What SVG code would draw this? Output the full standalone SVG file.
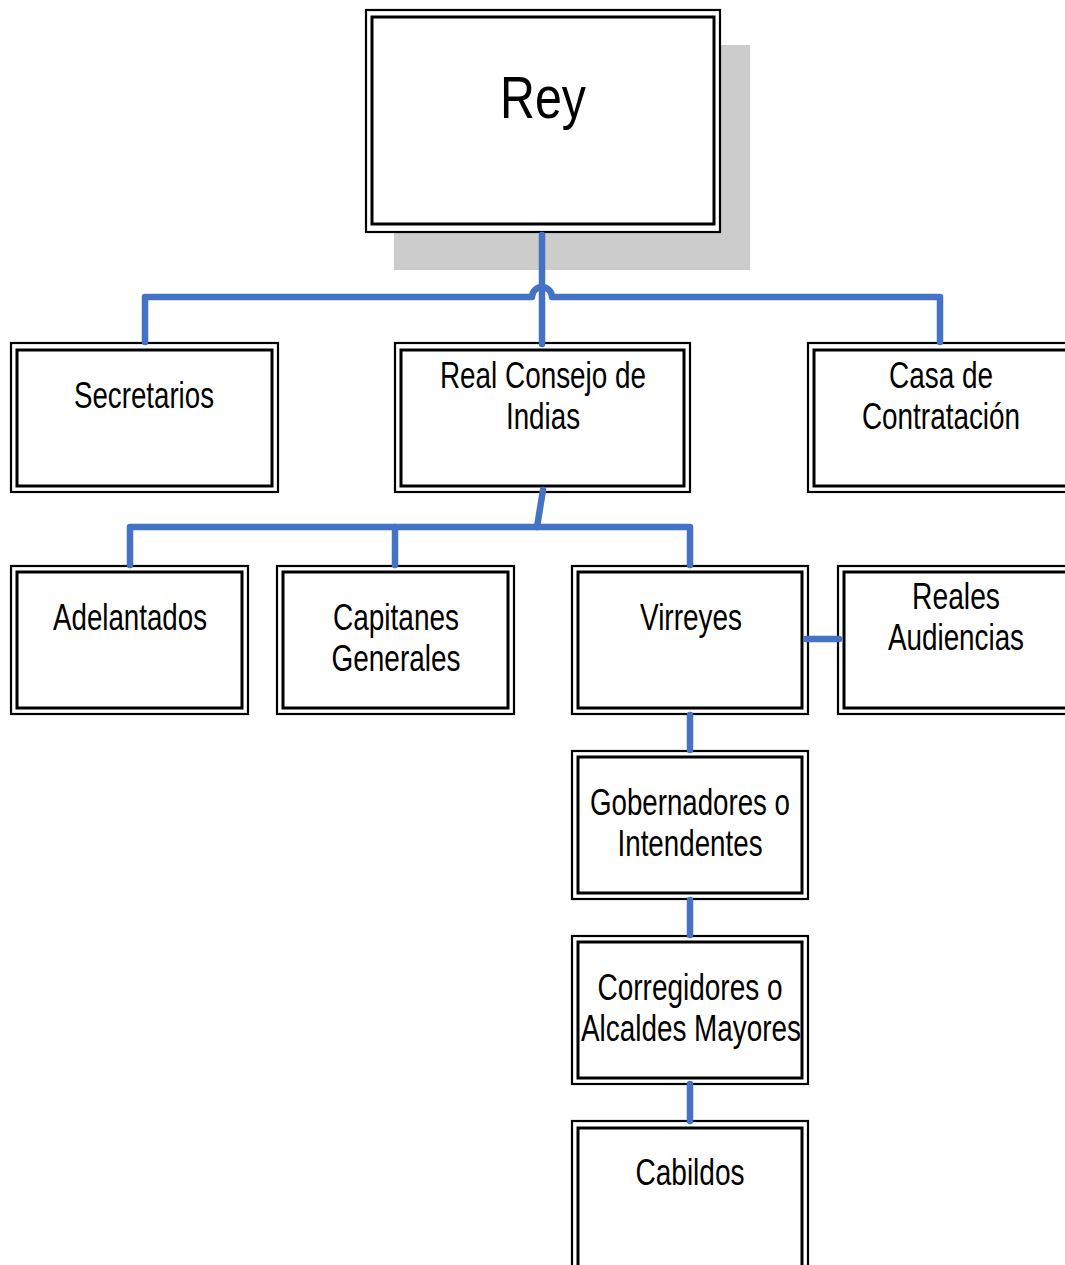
<svg xmlns="http://www.w3.org/2000/svg" width="1065" height="1265" viewBox="0 0 1065 1265">
<style>
.o{fill:#fff;stroke:#000;stroke-width:2.2}
.i{fill:none;stroke:#000;stroke-width:3}
.t{font-family:"Liberation Sans",Arial,sans-serif;font-size:36px;fill:#000;text-anchor:middle}
.c{fill:none;stroke:#4472C4;stroke-width:6.5;stroke-linecap:round;stroke-linejoin:round}
</style>
<rect x="0" y="0" width="1065" height="1265" fill="#fff"/>
<g id="rey">
<rect x="394" y="45" width="356" height="225" fill="#cccccc"/>
<rect class="o" x="366" y="10" width="354" height="222"/>
<rect class="i" x="372" y="17" width="342" height="207"/>
<text class="t" x="543" y="118" style="font-size:60px" textLength="86" lengthAdjust="spacingAndGlyphs">Rey</text>
</g>
<g id="secretarios">
<rect class="o" x="11" y="343" width="267" height="149"/>
<rect class="i" x="17" y="350" width="255" height="136"/>
<text class="t" x="144" y="408" textLength="140" lengthAdjust="spacingAndGlyphs">Secretarios</text>
</g>
<g id="consejo">
<rect class="o" x="395" y="343" width="295" height="149"/>
<rect class="i" x="401" y="350" width="283" height="136"/>
<text class="t" x="543" y="388" textLength="206" lengthAdjust="spacingAndGlyphs">Real Consejo de</text>
<text class="t" x="543" y="429" textLength="74" lengthAdjust="spacingAndGlyphs">Indias</text>
</g>
<g id="casa">
<rect class="o" x="808" y="343" width="266" height="149"/>
<rect class="i" x="814" y="350" width="254" height="136"/>
<text class="t" x="941" y="388" textLength="104" lengthAdjust="spacingAndGlyphs">Casa de</text>
<text class="t" x="941" y="429" textLength="158" lengthAdjust="spacingAndGlyphs">Contratación</text>
</g>
<g id="adelantados">
<rect class="o" x="11" y="566" width="237" height="148"/>
<rect class="i" x="17" y="572" width="225" height="136"/>
<text class="t" x="130" y="630" textLength="154" lengthAdjust="spacingAndGlyphs">Adelantados</text>
</g>
<g id="capitanes">
<rect class="o" x="277" y="566" width="237" height="148"/>
<rect class="i" x="283" y="572" width="225" height="136"/>
<text class="t" x="396" y="630" textLength="126" lengthAdjust="spacingAndGlyphs">Capitanes</text>
<text class="t" x="396" y="671" textLength="129" lengthAdjust="spacingAndGlyphs">Generales</text>
</g>
<g id="virreyes">
<rect class="o" x="572" y="566" width="236" height="148"/>
<rect class="i" x="578" y="572" width="224" height="136"/>
<text class="t" x="691" y="630" textLength="102" lengthAdjust="spacingAndGlyphs">Virreyes</text>
</g>
<g id="audiencias">
<rect class="o" x="838" y="566" width="236" height="148"/>
<rect class="i" x="844" y="572" width="224" height="136"/>
<text class="t" x="956" y="609" textLength="88" lengthAdjust="spacingAndGlyphs">Reales</text>
<text class="t" x="956" y="650" textLength="136" lengthAdjust="spacingAndGlyphs">Audiencias</text>
</g>
<g id="gobernadores">
<rect class="o" x="572" y="751" width="236" height="148"/>
<rect class="i" x="578" y="757" width="224" height="136"/>
<text class="t" x="690" y="815" textLength="200" lengthAdjust="spacingAndGlyphs">Gobernadores o</text>
<text class="t" x="690" y="856" textLength="145" lengthAdjust="spacingAndGlyphs">Intendentes</text>
</g>
<g id="corregidores">
<rect class="o" x="572" y="936" width="236" height="148"/>
<rect class="i" x="578" y="942" width="224" height="136"/>
<text class="t" x="690" y="1000" textLength="185" lengthAdjust="spacingAndGlyphs">Corregidores o</text>
<text class="t" x="691" y="1041" textLength="220" lengthAdjust="spacingAndGlyphs">Alcaldes Mayores</text>
</g>
<g id="cabildos">
<rect class="o" x="572" y="1121" width="236" height="155"/>
<rect class="i" x="578" y="1128" width="224" height="140"/>
<text class="t" x="690" y="1185" textLength="109" lengthAdjust="spacingAndGlyphs">Cabildos</text>
</g>
<g id="connectors">
<path class="c" d="M145,342 V297 H532 A10,10 0 0 1 552,297 H940 V342"/>
<path class="c" d="M542,235 V344"/>
<path class="c" d="M543,490 L537,527"/>
<path class="c" d="M130,565 V527 H690 V565"/>
<path class="c" d="M395,527 V565"/>
<path class="c" d="M806,639 H839"/>
<path class="c" d="M690,715 V750"/>
<path class="c" d="M690,900 V935"/>
<path class="c" d="M690,1084 V1121"/>
</g>
</svg>
